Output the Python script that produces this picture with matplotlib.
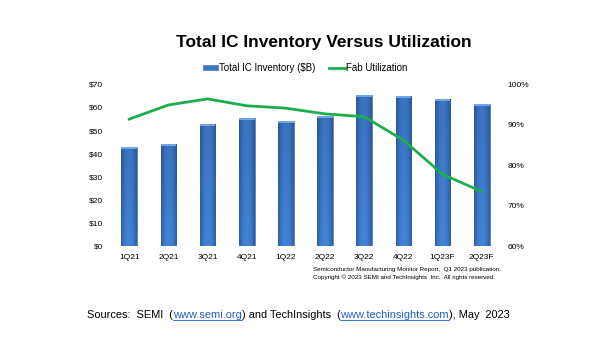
import numpy as np
import matplotlib
matplotlib.use("Agg")
import matplotlib.pyplot as plt
from matplotlib.colors import LinearSegmentedColormap
from matplotlib.lines import Line2D

quarters = ["1Q21", "2Q21", "3Q21", "4Q21", "1Q22", "2Q22", "3Q22", "4Q22", "1Q23F", "2Q23F"]
inventory = [42.9, 44.1, 52.7, 55.3, 54.0, 56.3, 65.5, 64.8, 63.5, 61.7]
utilization = [91.4, 94.9, 96.4, 94.7, 94.1, 92.7, 92.0, 86.2, 77.8, 73.5]
left_ticks = [0, 10, 20, 30, 40, 50, 60, 70]
right_ticks = [60, 70, 80, 90, 100]

plt.rcParams["font.family"] = ["Liberation Sans", "DejaVu Sans"]

fig = plt.figure(figsize=(6.11, 3.42), dpi=100)
ax = fig.add_axes([0.1795, 0.2798, 0.641, 0.4737])
ax2 = ax.twinx()
ax.set_zorder(1)
ax2.set_zorder(2)
ax.patch.set_visible(False)

x = np.arange(len(quarters))
bars = ax.bar(x, inventory, width=0.4, color="#3B78C8", edgecolor="#35659F",
              linewidth=0.4, zorder=2, label="Total IC Inventory ($B)")

# cylinder-like gradient
cmap = LinearSegmentedColormap.from_list("g", ["#315F9E", "#3E7DD0", "#4586D8", "#3E7DD0", "#315F9E"])
grad = np.linspace(0, 1, 64).reshape(1, -1)
for b in bars:
    bx, by = b.get_x(), b.get_y()
    bw, bh = b.get_width(), b.get_height()
    im = ax.imshow(grad, cmap=cmap, aspect="auto", extent=[bx, bx + bw, by, by + bh],
                   zorder=2.5, interpolation="bicubic")
    im.set_clip_path(b)
    vg = np.linspace(0, 1, 64).reshape(-1, 1)
    vcm = LinearSegmentedColormap.from_list("v", [(0.1, 0.2, 0.4, 0.0), (0.1, 0.2, 0.4, 0.2)])
    im2 = ax.imshow(vg, cmap=vcm, aspect="auto", extent=[bx, bx + bw, by + bh, by],
                    zorder=2.6, interpolation="bicubic")
    im2.set_clip_path(b)
    ax.bar(b.get_x() + bw / 2, 0.9, width=bw, bottom=by + bh - 0.9,
           color="#6FA6E6", edgecolor="none", zorder=2.7)

ax.set_xlim(-0.5, len(quarters) - 0.5)
ax.set_ylim(0, 70)
ax.set_yticks(left_ticks)
ax.set_yticklabels([f"${v}" for v in left_ticks])
ax.set_xticks(x)
ax.set_xticklabels(quarters)

ax2.plot(x, utilization, color="#1DAE4C", lw=2.0, zorder=3, label="Fab Utilization")
ax2.set_ylim(60, 100)
ax2.set_yticks(right_ticks)
ax2.set_yticklabels([f"{v}%" for v in right_ticks])

for a in (ax, ax2):
    for s in a.spines.values():
        s.set_visible(False)
    a.tick_params(length=0, labelsize=6.0, colors="#000000")
ax.tick_params(axis="y", pad=4.6)
ax.tick_params(axis="x", pad=5.8)
ax2.tick_params(axis="y", pad=4.6)
ax.axhline(0, color="#D9D9D9", lw=0.6, zorder=1)

fig.text(0.530, 0.877, "Total IC Inventory Versus Utilization", ha="center", va="center",
         fontsize=12.5, fontweight="bold")

handles = [bars, Line2D([0], [0], color="#1DAE4C", lw=2.0)]
leg = fig.legend(handles, ["Total IC Inventory ($B)", "Fab Utilization"], loc="center",
                 bbox_to_anchor=(0.499, 0.801), ncol=2, frameon=False, fontsize=7,
                 handlelength=1.6, handleheight=0.5, handletextpad=0.1, columnspacing=1.4)

fig.text(0.512, 0.213, "Semiconductor Manufacturing Monitor Report,  Q1 2023 publication.",
         fontsize=4.5, ha="left", va="center")
fig.text(0.512, 0.190, "Copyright \u00a9 2023 SEMI and TechInsights  Inc.  All rights reserved.",
         fontsize=4.5, ha="left", va="center")

pieces = [("Sources:  SEMI  (", "black", False), ("www.semi.org", "#1F5FC8", True),
          (") and TechInsights  (", "black", False), ("www.techinsights.com", "#1F5FC8", True),
          ("), May  2023", "black", False)]
fig.canvas.draw()
renderer = fig.canvas.get_renderer()
xpos = 87.0
ypix = 342 - 315
for txt, col, ul in pieces:
    t = fig.text(xpos / 611, ypix / 342, txt, fontsize=7.95, color=col, ha="left", va="center")
    bb = t.get_window_extent(renderer)
    if ul:
        fig.add_artist(Line2D([bb.x0 / 611, bb.x1 / 611], [(bb.y0 + 0.5) / 342] * 2,
                              color=col, lw=0.6, transform=fig.transFigure))
    xpos = bb.x1

fig.savefig("out.png", dpi=100)
